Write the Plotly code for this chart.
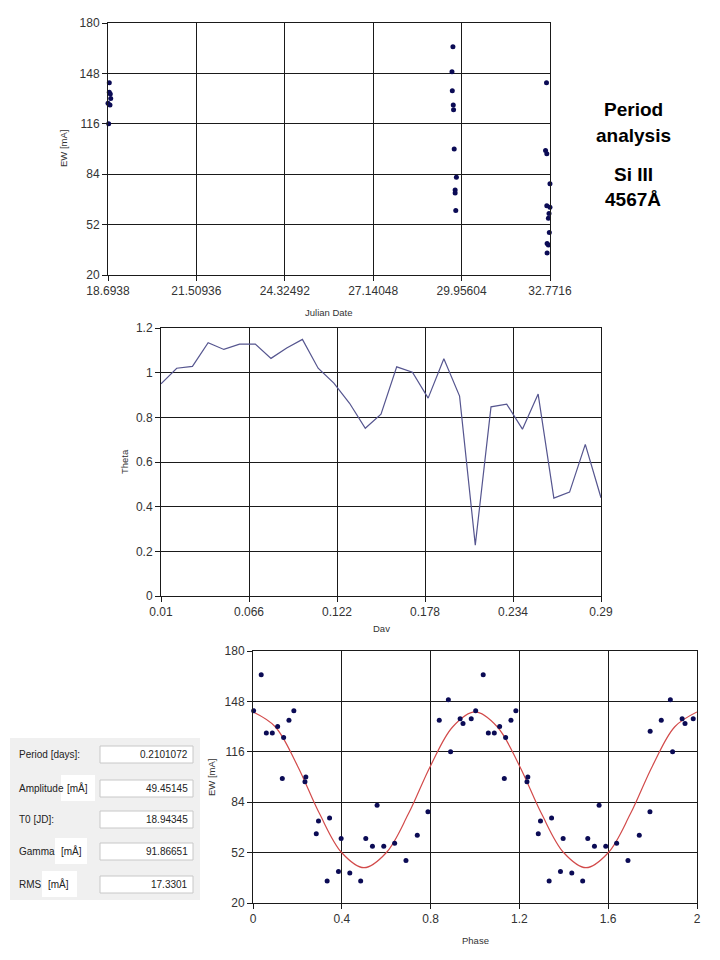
import plotly.graph_objects as go

# ---------------- data ----------------
jd_dates = [18.735, 18.735, 18.767, 18.78, 18.694, 18.757, 18.715,
            29.68, 29.65, 29.66, 29.69, 29.70, 29.72, 29.79, 29.75, 29.75, 29.77,
            32.66, 32.63, 32.67, 32.77, 32.67, 32.77, 32.74, 32.72, 32.75, 32.68, 32.72, 32.68]
jd_ew = [142, 136, 135, 132, 129, 128, 116,
         165, 149, 137, 128, 125, 100, 82, 74, 72, 61,
         142, 99, 97, 78, 64, 63, 59, 56, 47, 40, 39, 34]
jd_ticks = [18.6938, 21.50936, 24.32492, 27.14048, 29.95604, 32.7716]
jd_ticktext = ["18.6938", "21.50936", "24.32492", "27.14048", "29.95604", "32.7716"]

dav = [0.01, 0.02, 0.03, 0.04, 0.05, 0.06, 0.07, 0.08, 0.09, 0.10,
       0.11, 0.12, 0.13, 0.14, 0.15, 0.16, 0.17, 0.18, 0.19, 0.20,
       0.21, 0.22, 0.23, 0.24, 0.25, 0.26, 0.27, 0.28, 0.29]
theta = [0.950, 1.020, 1.028, 1.134, 1.104, 1.128, 1.128, 1.064, 1.110, 1.149,
         1.020, 0.953, 0.863, 0.751, 0.814, 1.026, 1.002, 0.886, 1.062, 0.895,
         0.228, 0.847, 0.859, 0.747, 0.904, 0.438, 0.465, 0.679, 0.440]
dav_ticks = [0.01, 0.066, 0.122, 0.178, 0.234, 0.29]
theta_ticks = [0, 0.2, 0.4, 0.6, 0.8, 1.0, 1.2]
theta_ticktext = ["0", "0.2", "0.4", "0.6", "0.8", "1", "1.2"]

phase = [0.003, 0.037, 0.060, 0.087, 0.111, 0.132, 0.138, 0.162, 0.184, 0.234,
         0.238, 0.285, 0.295, 0.334, 0.345, 0.385, 0.397, 0.436, 0.485, 0.508,
         0.538, 0.559, 0.589, 0.638, 0.689, 0.740, 0.788, 0.839, 0.880, 0.890,
         0.933, 0.946, 0.983]
phase_ew = [142, 165, 128, 128, 132, 99, 125, 136, 142, 97,
            100, 64, 72, 34, 74, 40, 61, 39, 34, 61,
            56, 82, 56, 58, 47, 63, 78, 136, 149, 116,
            137, 134, 137]
extra_phase = [1.789]
extra_ew = [129]

fit_phase = [0.0, 0.1, 0.2, 0.3, 0.4, 0.5, 0.6, 0.7, 0.8, 0.9, 1.0,
             1.1, 1.2, 1.3, 1.4, 1.5, 1.6, 1.7, 1.8, 1.9, 2.0]
fit_ew = [141.3, 131.9, 107.2, 76.6, 51.9, 42.4, 51.9, 76.6, 107.2, 131.9, 141.3,
          131.9, 107.2, 76.6, 51.9, 42.4, 51.9, 76.6, 107.2, 131.9, 141.3]
ew_ticks = [20, 52, 84, 116, 148, 180]
phase_ticks = [0, 0.4, 0.8, 1.2, 1.6, 2]

panel_labels = ["Period [days]:", "Amplitude", "T0 [JD]:", "Gamma", "RMS"]
panel_values = ["0.2101072", "49.45145", "18.94345", "91.86651", "17.3301"]

# ---------------- figure ----------------
OFF = 8                      # page body margin
W, H = 720 - OFF, 960 - OFF  # figure size
def px(x):
    return (x - OFF) / W
def py(y):
    return 1 - (y - OFF) / H

NAVY = "#0b0b55"
TICKFONT = dict(family="Liberation Sans, Arial", size=12, color="#333333")
TITLEFONT = dict(family="Liberation Sans, Arial", size=9.5, color="#333333")

fig = go.Figure()

fig.add_trace(go.Scatter(x=jd_dates, y=jd_ew, mode="markers", xaxis="x", yaxis="y",
                         marker=dict(size=5, color=NAVY), cliponaxis=False, showlegend=False))
fig.add_trace(go.Scatter(x=dav, y=theta, mode="lines", xaxis="x2", yaxis="y2",
                         line=dict(color="#55558f", width=1.2), showlegend=False))
fig.add_trace(go.Scatter(x=fit_phase, y=fit_ew, mode="lines", xaxis="x3", yaxis="y3",
                         line=dict(color="#d24a4a", width=1.2, shape="spline", smoothing=1.0),
                         showlegend=False))
fig.add_trace(go.Scatter(x=phase + [p + 1 for p in phase] + extra_phase,
                         y=phase_ew + phase_ew + extra_ew,
                         mode="markers", xaxis="x3", yaxis="y3",
                         marker=dict(size=5, color=NAVY), cliponaxis=False, showlegend=False))

def axis_common():
    return dict(showgrid=True, gridcolor="#1a1a1a", gridwidth=1,
                showline=True, linecolor="#1a1a1a", linewidth=1, mirror=True,
                ticks="outside", ticklen=5, tickcolor="#1a1a1a",
                tickfont=TICKFONT, zeroline=False, fixedrange=True, automargin=False)

fig.update_layout(
    width=W, height=H, margin=dict(l=0, r=0, t=0, b=0, pad=0, autoexpand=False),
    paper_bgcolor="white", plot_bgcolor="white",
    xaxis=dict(domain=[px(108), px(550)], range=[jd_ticks[0], jd_ticks[-1]],
               tickvals=jd_ticks, ticktext=jd_ticktext, anchor="y", **axis_common()),
    yaxis=dict(domain=[py(275), py(23)], range=[20, 180], tickvals=ew_ticks,
               anchor="x", **axis_common()),
    xaxis2=dict(domain=[px(161), px(601)], range=[0.01, 0.29], tickvals=dav_ticks,
                anchor="y2", **axis_common()),
    yaxis2=dict(domain=[py(596), py(328)], range=[0, 1.2], tickvals=theta_ticks,
                ticktext=theta_ticktext, anchor="x2", **axis_common()),
    xaxis3=dict(domain=[px(253), px(697)], range=[0, 2], tickvals=phase_ticks,
                anchor="y3", **axis_common()),
    yaxis3=dict(domain=[py(903), py(651)], range=[20, 180], tickvals=ew_ticks,
                anchor="x3", **axis_common()),
)

ann = []
def text(x, y, s, font, xanchor="center", **kw):
    ann.append(dict(x=px(x), y=py(y), xref="paper", yref="paper", text=s,
                    showarrow=False, font=font, xanchor=xanchor, yanchor="middle", **kw))

# axis titles
text(329, 312, "Julian Date", TITLEFONT)
text(63, 148, "EW [mA]", TITLEFONT, textangle=-90)
text(381, 628, "Dav", TITLEFONT)
text(124, 462, "Theta", TITLEFONT, textangle=-90)
text(475, 940, "Phase", TITLEFONT)
text(211, 778, "EW [mA]", TITLEFONT, textangle=-90)

# right-hand title
BOLD = dict(family="Liberation Sans, Arial", size=19, color="black")
text(633, 110, "<b>Period</b>", BOLD)
text(633, 136, "<b>analysis</b>", BOLD)
text(633, 174, "<b>Si III</b>", BOLD)
text(633, 200, "<b>4567Å</b>", BOLD)

# parameter panel
shapes = [dict(type="rect", xref="paper", yref="paper", x0=px(10), x1=px(200),
               y0=py(900), y1=py(738), fillcolor="#f0f0f0", line=dict(width=0), layer="below")]
PFONT = dict(family="Liberation Sans, Arial", size=10, color="#222222")
row_y = [754, 788, 819, 851, 884]
unit_boxes = [None, (61, 95), None, (55, 87), (42, 77)]
for i, (lab, val) in enumerate(zip(panel_labels, panel_values)):
    y = row_y[i]
    shapes.append(dict(type="rect", xref="paper", yref="paper", x0=px(100), x1=px(193),
                       y0=py(y + 9), y1=py(y - 8), fillcolor="white",
                       line=dict(color="#c8c8c8", width=1)))
    text(190, y, val, PFONT, xanchor="right")
    text(17, y, lab, PFONT, xanchor="left")
    if unit_boxes[i] is not None:
        x0, x1 = unit_boxes[i]
        shapes.append(dict(type="rect", xref="paper", yref="paper", x0=px(x0), x1=px(x1),
                           y0=py(y + 13), y1=py(y - 13), fillcolor="white", line=dict(width=0)))
        text(x0 + 4, y, "[mÅ]", PFONT, xanchor="left")

fig.update_layout(annotations=ann, shapes=shapes)
fig.write_html("out.html")
